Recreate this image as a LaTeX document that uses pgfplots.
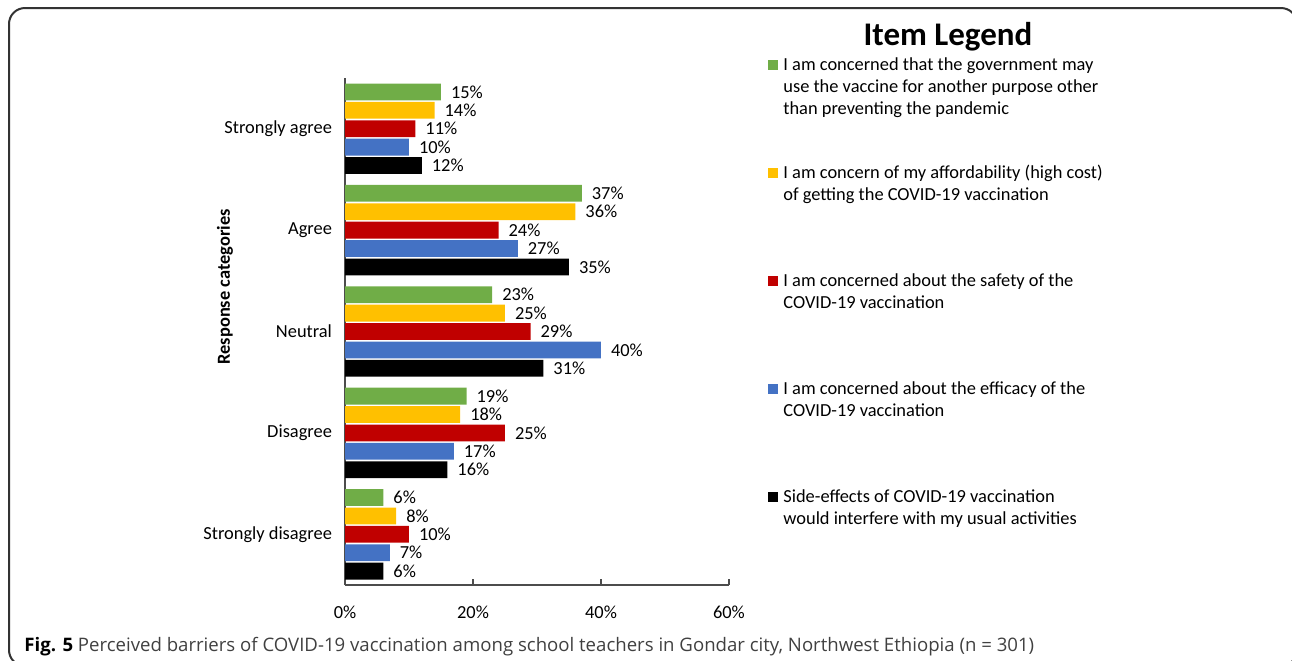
\documentclass[border=0pt]{standalone}
\usepackage{fontspec}
\setmainfont{Carlito}
\newfontfamily\capfont{Open Sans}
\usepackage{pgfplots}
\pgfplotsset{compat=1.18}

\definecolor{cgreen}{HTML}{70AD47}
\definecolor{cgold}{HTML}{FFC000}
\definecolor{cred}{HTML}{C00000}
\definecolor{cblue}{HTML}{4472C4}
\definecolor{cblack}{HTML}{000000}

\newcommand{\lbl}{\fontsize{9.2}{11}\selectfont}

\begin{document}
\begin{tikzpicture}
% pixel grid of the reference: 1px = 0.5pt, y downward
\begin{scope}[x=0.5pt,y=-0.5pt]
  \useasboundingbox (0,0) rectangle (1292,660);
  \draw[line width=1pt, black!80, rounded corners=8pt] (9,8) rectangle (1297,666);

  % legend
  \node[font=\bfseries\fontsize{16.5}{18}\selectfont, inner sep=0] at (948,37) {Item Legend};
  \fill[cgreen] (768,60) rectangle (778,70);
  \node[anchor=base west, inner sep=0, font=\lbl] at (783,70) {I am concerned that the government may};
  \node[anchor=base west, inner sep=0, font=\lbl] at (783,92) {use the vaccine for another purpose other};
  \node[anchor=base west, inner sep=0, font=\lbl] at (783,114) {than preventing the pandemic};
  \fill[cgold] (768,168) rectangle (778,178);
  \node[anchor=base west, inner sep=0, font=\lbl] at (783,178) {I am concern of my affordability (high cost)};
  \node[anchor=base west, inner sep=0, font=\lbl] at (783,200) {of getting the COVID-19 vaccination};
  \fill[cred] (768,276) rectangle (778,286);
  \node[anchor=base west, inner sep=0, font=\lbl] at (783,286) {I am concerned about the safety of the};
  \node[anchor=base west, inner sep=0, font=\lbl] at (783,308) {COVID-19 vaccination};
  \fill[cblue] (768,384) rectangle (778,394);
  \node[anchor=base west, inner sep=0, font=\lbl] at (783,394) {I am concerned about the efficacy of the};
  \node[anchor=base west, inner sep=0, font=\lbl] at (783,416) {COVID-19 vaccination};
  \fill[cblack] (768,492) rectangle (778,502);
  \node[anchor=base west, inner sep=0, font=\lbl] at (783,502) {Side-effects of COVID-19 vaccination};
  \node[anchor=base west, inner sep=0, font=\lbl] at (783,524) {would interfere with my usual activities};

  % caption
  \node[anchor=base west, inner sep=0, font=\capfont\fontsize{9.3}{10}\selectfont, text=black!75] at (24,651)
    {{\color{black}\bfseries Fig. 5} Perceived barriers of COVID-19 vaccination among school teachers in Gondar city, Northwest Ethiopia (n = 301)};
\end{scope}

\begin{axis}[
  at={(172.5pt,-292.5pt)}, anchor=south west,
  scale only axis, width=192pt, height=253.5pt,
  xbar=0.8pt, bar width=8.4pt,
  xmin=0, xmax=60, ymin=-0.5, ymax=4.5, y dir=reverse,
  axis x line*=bottom, axis y line*=left,
  axis line style={black!70, line width=0.6pt},
  xtick={0,20,40,60},
  xticklabel={\pgfmathprintnumber{\tick}\%},
  tick align=inside, major tick length=3pt,
  xtick style={black!70, line width=0.6pt},
  ytick={0,1,2,3,4},
  yticklabels={Strongly agree,Agree,Neutral,Disagree,Strongly disagree},
  ytick style={draw=none},
  /pgf/number format/assume math mode=true,
  ticklabel style={font=\lbl},
  xticklabel style={yshift=-7pt},
  yticklabel style={xshift=-3pt},
  ylabel={Response categories},
  ylabel style={font=\bfseries\lbl, at={(axis description cs:-0.3125,0.588)}, anchor=center},
  point meta=x,
  nodes near coords={\pgfmathprintnumber{\pgfplotspointmeta}\%},
  nodes near coords style={font=\lbl, anchor=west, xshift=1.5pt},
  clip=false,
]
% categories: 0 Strongly agree, 1 Agree, 2 Neutral, 3 Disagree, 4 Strongly disagree
% plotted bottom-up within each group (side-effects first, government last)
\addplot[fill=cblack, draw=none] coordinates {(12,0) (35,1) (31,2) (16,3) (6,4)};
\addplot[fill=cblue, draw=none] coordinates {(10,0) (27,1) (40,2) (17,3) (7,4)};
\addplot[fill=cred, draw=none] coordinates {(11,0) (24,1) (29,2) (25,3) (10,4)};
\addplot[fill=cgold, draw=none] coordinates {(14,0) (36,1) (25,2) (18,3) (8,4)};
\addplot[fill=cgreen, draw=none] coordinates {(15,0) (37,1) (23,2) (19,3) (6,4)};
\end{axis}
\end{tikzpicture}
\end{document}
